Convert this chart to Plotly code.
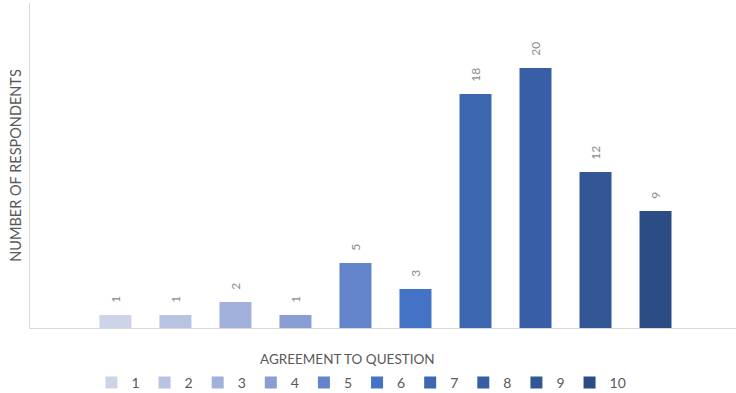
import plotly.graph_objects as go

categories = ["1", "2", "3", "4", "5", "6", "7", "8", "9", "10"]
values = [1, 1, 2, 1, 5, 3, 18, 20, 12, 9]
colors = ["#CDD4E8", "#B8C3E2", "#A2B1DB", "#8A9ED4", "#6383CA",
          "#4472C4", "#3E67B1", "#385EA6", "#335795", "#2C4C85"]
x_title = "AGREEMENT TO QUESTION"
y_title = "NUMBER OF RESPONDENTS"

FONT = "Lato"
fig = go.Figure()
for name, v, c in zip(categories, values, colors):
    fig.add_trace(go.Bar(
        x=["Q"], y=[v], name=name, marker_color=c, marker_line_width=0,
        text=["\u00a0\u00a0\u00a0" + str(v)], textposition="outside", textangle=-90,
        textfont=dict(family=FONT, size=12, color="#8C8C8C"),
        cliponaxis=False,
    ))

fig.update_layout(
    width=736, height=393,
    margin=dict(l=30, r=0, t=3, b=65, autoexpand=False),
    paper_bgcolor="white", plot_bgcolor="white",
    barmode="group", bargap=0.15, bargroupgap=0.467,
    font=dict(family=FONT, color="#595959", size=13),
    showlegend=True,
    legend=dict(orientation="h", x=0.087, xanchor="left", y=-0.12, yanchor="top",
                itemwidth=30,
                font=dict(family=FONT, size=14, color="#595959"),
                itemclick=False, traceorder="normal"),
    annotations=[dict(text=x_title, xref="paper", yref="paper", x=0.45, y=-0.065,
                      xanchor="center", yanchor="top", showarrow=False,
                      font=dict(family=FONT, size=13.5, color="#595959"))],
)
fig.update_xaxes(range=[-0.5035, 0.4965], showticklabels=False, ticks="", showgrid=False,
                 showline=True, linecolor="#D9D9D9", linewidth=1)
fig.update_yaxes(range=[0, 25], showticklabels=False, ticks="", showgrid=False,
                 zeroline=False, showline=True, linecolor="#D9D9D9", linewidth=1,
                 title=dict(text=y_title, standoff=3,
                            font=dict(family=FONT, size=14.5, color="#595959")))

fig.write_html("out.html")
